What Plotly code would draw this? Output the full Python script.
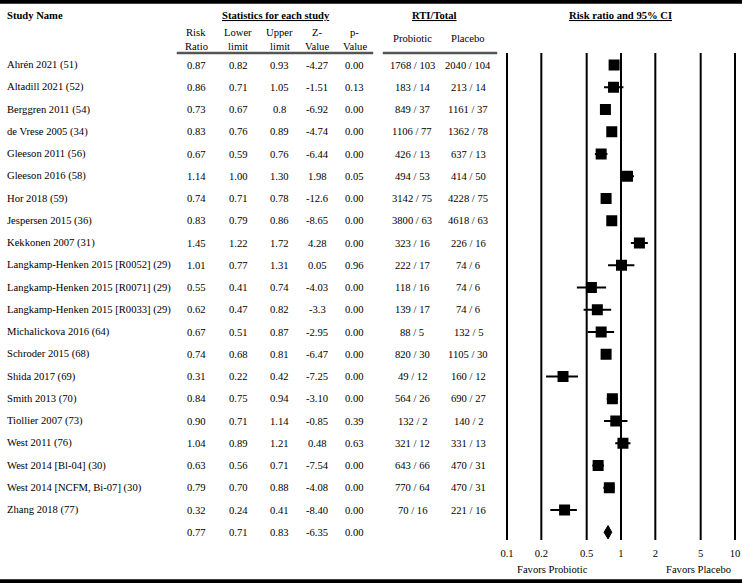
import plotly.graph_objects as go

studies = ["Ahrén 2021 (51)", "Altadill 2021 (52)", "Berggren 2011 (54)", "de Vrese 2005 (34)",
           "Gleeson 2011 (56)", "Gleeson 2016 (58)", "Hor 2018 (59)", "Jespersen 2015 (36)",
           "Kekkonen 2007 (31)", "Langkamp-Henken 2015 [R0052] (29)", "Langkamp-Henken 2015 [R0071] (29)",
           "Langkamp-Henken 2015 [R0033] (29)", "Michalickova 2016 (64)", "Schroder 2015 (68)",
           "Shida 2017 (69)", "Smith 2013 (70)", "Tiollier 2007 (73)", "West 2011 (76)",
           "West 2014 [Bl-04] (30)", "West 2014 [NCFM, Bi-07] (30)", "Zhang 2018 (77)"]
risk_ratio = ["0.87", "0.86", "0.73", "0.83", "0.67", "1.14", "0.74", "0.83", "1.45", "1.01", "0.55",
              "0.62", "0.67", "0.74", "0.31", "0.84", "0.90", "1.04", "0.63", "0.79", "0.32"]
lower_limit = ["0.82", "0.71", "0.67", "0.76", "0.59", "1.00", "0.71", "0.79", "1.22", "0.77", "0.41",
               "0.47", "0.51", "0.68", "0.22", "0.75", "0.71", "0.89", "0.56", "0.70", "0.24"]
upper_limit = ["0.93", "1.05", "0.8", "0.89", "0.76", "1.30", "0.78", "0.86", "1.72", "1.31", "0.74",
               "0.82", "0.87", "0.81", "0.42", "0.94", "1.14", "1.21", "0.71", "0.88", "0.41"]
z_value = ["-4.27", "-1.51", "-6.92", "-4.74", "-6.44", "1.98", "-12.6", "-8.65", "4.28", "0.05", "-4.03",
           "-3.3", "-2.95", "-6.47", "-7.25", "-3.10", "-0.85", "0.48", "-7.54", "-4.08", "-8.40"]
p_value = ["0.00", "0.13", "0.00", "0.00", "0.00", "0.05", "0.00", "0.00", "0.00", "0.96", "0.00",
           "0.00", "0.00", "0.00", "0.00", "0.00", "0.39", "0.63", "0.00", "0.00", "0.00"]
probiotic = ["1768 / 103", "183 / 14", "849 / 37", "1106 / 77", "426 / 13", "494 / 53", "3142 / 75",
             "3800 / 63", "323 / 16", "222 / 17", "118 / 16", "139 / 17", "88 / 5", "820 / 30",
             "49 / 12", "564 / 26", "132 / 2", "321 / 12", "643 / 66", "770 / 64", "70 / 16"]
placebo = ["2040 / 104", "213 / 14", "1161 / 37", "1362 / 78", "637 / 13", "414 / 50", "4228 / 75",
           "4618 / 63", "226 / 16", "74 / 6", "74 / 6", "74 / 6", "132 / 5", "1105 / 30", "160 / 12",
           "690 / 27", "140 / 2", "331 / 13", "470 / 31", "470 / 31", "221 / 16"]
summary = {"rr": "0.77", "lower": "0.71", "upper": "0.83", "z": "-6.35", "p": "0.00"}
tick_vals = [0.1, 0.2, 0.5, 1, 2, 5, 10]
tick_text = ["0.1", "0.2", "0.5", "1", "2", "5", "10"]

W, H = 742, 583
ROW0, STEP = 65.0, 22.25
X_LO_PX, X_HI_PX = 507.0, 735.0          # pixel positions of RR 0.1 and 10
FONT = "Liberation Serif, Times New Roman, serif"
FS = 10.6

PX_PER_DECADE = (X_HI_PX - X_LO_PX) / 2.0


def log_of_px(p):
    return -1 + (p - X_LO_PX) / PX_PER_DECADE


def val_of_px(p):
    return 10 ** log_of_px(p)


def row_of(py):
    return (py - ROW0) / STEP


def px(x):
    return x / W


def py_paper(y):
    return 1 - y / H


n = len(studies)
rows = list(range(n))
sum_row = n

rr = [float(v) for v in risk_ratio]
lo = [float(v) for v in lower_limit]
up = [float(v) for v in upper_limit]

fig = go.Figure()

# horizontal rules drawn as thin filled bands (decoration)
bands = [
    (0, W, 0, 3.5, "black"),
    (0, W, 579.5, 583, "black"),
    (177, 373, 52, 54, "#555555"),
    (383, 497, 52, 54, "#555555"),
]
for x0, x1, y0, y1, col in bands:
    xa, xb = val_of_px(x0 + 0.01), val_of_px(x1 - 0.01)
    ya, yb = row_of(y0 + 0.01), row_of(y1 - 0.01)
    fig.add_trace(go.Scatter(x=[xa, xb, xb, xa, xa], y=[ya, ya, yb, yb, ya],
                             mode="lines", fill="toself", fillcolor=col,
                             line=dict(color=col, width=0.5),
                             hoverinfo="skip", showlegend=False))

# vertical reference lines
for v in tick_vals:
    fig.add_trace(go.Scatter(x=[v, v], y=[row_of(53), row_of(540)], mode="lines",
                             line=dict(color="black", width=2), hoverinfo="skip", showlegend=False))

# study squares with CI
fig.add_trace(go.Scatter(
    x=rr, y=rows, mode="markers",
    marker=dict(symbol="square", size=11, color="black"),
    error_x=dict(type="data", symmetric=False,
                 array=[u - r for u, r in zip(up, rr)],
                 arrayminus=[r - l for r, l in zip(rr, lo)],
                 color="black", thickness=2, width=0),
    hoverinfo="skip", showlegend=False))

# summary diamond
s_rr, s_lo, s_up = float(summary["rr"]), float(summary["lower"]), float(summary["upper"])
fig.add_trace(go.Scatter(
    x=[s_lo, s_rr, s_up, s_rr, s_lo], y=[sum_row, sum_row - 0.3, sum_row, sum_row + 0.3, sum_row],
    mode="lines", fill="toself", fillcolor="black", line=dict(color="black", width=1),
    hoverinfo="skip", showlegend=False))

# tick labels
fig.add_trace(go.Scatter(x=tick_vals, y=[row_of(554)] * len(tick_vals), mode="text",
                         text=tick_text, textposition="middle center", cliponaxis=False,
                         textfont=dict(family=FONT, size=FS, color="black"),
                         hoverinfo="skip", showlegend=False))

ann = []


def add_text(x, y, text, xanchor="center", yref="y", size=FS):
    ann.append(dict(x=px(x), xref="paper", y=y, yref=yref, text=text, showarrow=False,
                    xanchor=xanchor, yanchor="middle",
                    font=dict(family=FONT, size=size, color="black")))


cols = [(196, risk_ratio), (238, lower_limit), (279, upper_limit), (317, z_value),
        (354, p_value), (412, probiotic), (468, placebo)]
for i in rows:
    add_text(5, i, studies[i], xanchor="left")
    for cx, arr in cols:
        add_text(cx, i, arr[i])
for cx, key in zip([196, 238, 279, 317, 354], ["rr", "lower", "upper", "z", "p"]):
    add_text(cx, sum_row, summary[key])

# headers
add_text(5, py_paper(15), "<b>Study Name</b>", xanchor="left", yref="paper")
add_text(275.5, py_paper(15), "<b><u>Statistics for each study</u></b>", yref="paper")
add_text(434, py_paper(15), "<b><u>RTI/Total</u></b>", yref="paper")
add_text(620, py_paper(15), "<b><u>Risk ratio and 95% CI</u></b>", yref="paper")
for cx, l1, l2 in [(196, "Risk", "Ratio"), (238, "Lower", "limit"), (279.5, "Upper", "limit"),
                   (317, "Z-", "Value"), (354.5, "p-", "Value")]:
    add_text(cx, py_paper(33), l1, yref="paper")
    add_text(cx, py_paper(46), l2, yref="paper")
add_text(412, py_paper(39), "Probiotic", yref="paper")
add_text(468, py_paper(39), "Placebo", yref="paper")
add_text(552, py_paper(569), "Favors Probiotic", yref="paper")
add_text(698, py_paper(569), "Favors Placebo", yref="paper")

fig.update_layout(
    width=W, height=H, autosize=False,
    margin=dict(l=0, r=0, t=0, b=0, pad=0),
    paper_bgcolor="white", plot_bgcolor="white",
    xaxis=dict(type="log", range=[log_of_px(0), log_of_px(W)], domain=[0, 1], visible=False),
    yaxis=dict(range=[row_of(H), row_of(0)], domain=[0, 1], visible=False),
    annotations=ann, showlegend=False, hovermode=False,
)

fig.write_html("out.html", config={"displayModeBar": False},
               post_script="document.body.style.margin='0px';document.body.style.padding='0px';")
